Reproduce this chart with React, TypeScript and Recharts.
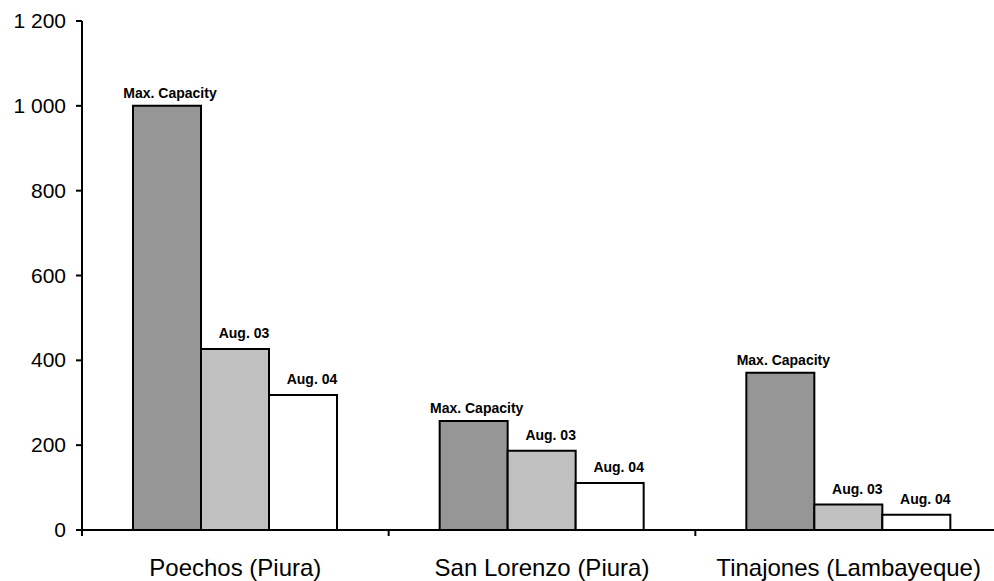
import React from 'react';
import { BarChart, Bar, XAxis, YAxis, LabelList } from 'recharts';

// Reservoir storage (millions of m³): maximum capacity vs. August 2003 and August 2004
const RESERVOIRS = ['Poechos (Piura)', 'San Lorenzo (Piura)', 'Tinajones (Lambayeque)'];
const MAX_CAPACITY = [1000, 257, 371];
const AUG_03 = [427, 187, 60];
const AUG_04 = [318, 111, 36];
const SERIES_NAMES = ['Max. Capacity', 'Aug. 03', 'Aug. 04'];
const Y_TICKS = [0, 200, 400, 600, 800, 1000, 1200];

const FONT = '"Liberation Sans", Arial, Helvetica, sans-serif';

const data = RESERVOIRS.map((name, i) => ({
  name,
  max: MAX_CAPACITY[i],
  aug03: AUG_03[i],
  aug04: AUG_04[i],
}));

const formatThousands = (v: number) =>
  String(v).replace(/\B(?=(\d{3})+(?!\d))/g, ' ');

// Category label centred under each group, with a short tick mark at the group's left edge
const CategoryTick = (props: any) => {
  const { x, y, payload, index, visibleTicksCount } = props;
  const half = payload && payload.offset ? payload.offset : 0;
  const isLast = index === (visibleTicksCount ?? 3) - 1;
  return (
    <g>
      <line x1={x - half} x2={x - half} y1={y - 6} y2={y} stroke="#000" strokeWidth={2} />
      {isLast && (
        <line x1={x + half} x2={x + half} y1={y - 6} y2={y} stroke="#000" strokeWidth={2} />
      )}
      <text x={x} y={y + 40} textAnchor="middle" fontSize={24} fontFamily={FONT} fill="#000">
        {payload.value}
      </text>
    </g>
  );
};

const ValueTick = (props: any) => {
  const { x, y, payload } = props;
  return (
    <text x={x} y={y + 7} textAnchor="end" fontSize={21} fontFamily={FONT} fill="#000">
      {formatThousands(payload.value)}
    </text>
  );
};

// Series name written above each bar
const makeSeriesLabel = (text: string, dx: number, gap: number) => (props: any) => {
  const { x, y, width } = props;
  return (
    <text
      x={Number(x) + Number(width) / 2 + dx}
      y={Number(y) - gap}
      textAnchor="middle"
      fontSize={14}
      fontWeight="bold"
      fontFamily={FONT}
      fill="#000"
    >
      {text}
    </text>
  );
};

export default function App() {
  return (
    <div style={{ position: 'absolute', left: 0, top: 0, width: 994, height: 581, overflow: 'hidden', background: '#fff' }}>
      <BarChart
        width={1010}
        height={581}
        data={data}
        margin={{ top: 21, right: 8, bottom: 0, left: 0 }}
        barCategoryGap={51}
        barGap={0}
      >
        <XAxis
          dataKey="name"
          height={51}
          axisLine={{ stroke: '#000', strokeWidth: 2 }}
          tickLine={false}
          tickSize={6}
          tickMargin={0}
          interval={0}
          tick={<CategoryTick />}
        />
        <YAxis
          width={82}
          domain={[0, 1200]}
          ticks={Y_TICKS}
          interval={0}
          axisLine={{ stroke: '#000', strokeWidth: 2 }}
          tickLine={{ stroke: '#000', strokeWidth: 2 }}
          tickSize={6}
          tickMargin={10}
          tick={<ValueTick />}
        />
        <Bar dataKey="max" fill="#969696" stroke="#000" strokeWidth={2} isAnimationActive={false}>
          <LabelList dataKey="max" content={makeSeriesLabel(SERIES_NAMES[0], 3, 8)} />
        </Bar>
        <Bar dataKey="aug03" fill="#c0c0c0" stroke="#000" strokeWidth={2} isAnimationActive={false}>
          <LabelList dataKey="aug03" content={makeSeriesLabel(SERIES_NAMES[1], 9, 11)} />
        </Bar>
        <Bar dataKey="aug04" fill="#ffffff" stroke="#000" strokeWidth={2} isAnimationActive={false}>
          <LabelList dataKey="aug04" content={makeSeriesLabel(SERIES_NAMES[2], 9, 11)} />
        </Bar>
      </BarChart>
    </div>
  );
}
